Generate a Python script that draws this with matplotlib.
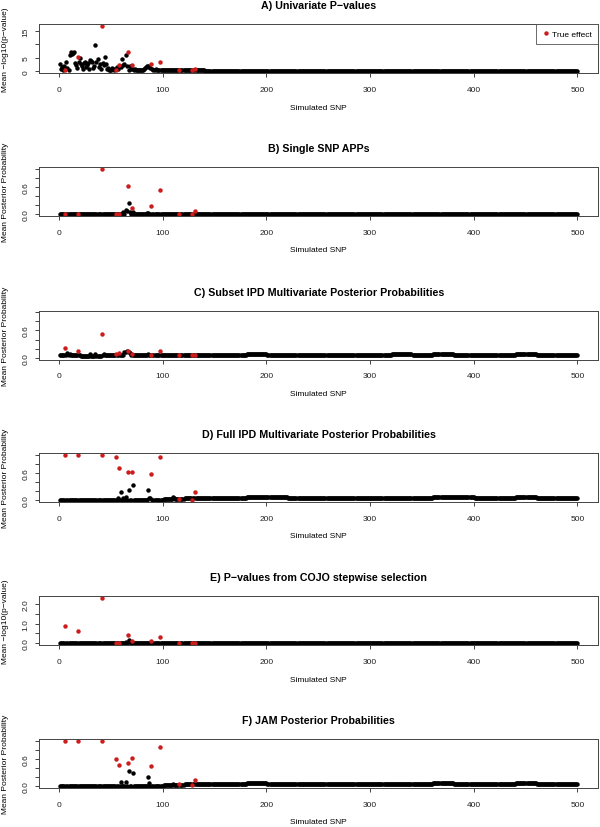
import numpy as np
import matplotlib
matplotlib.use("Agg")
import matplotlib.pyplot as plt
from matplotlib.lines import Line2D

plt.rcParams['font.family'] = ['Liberation Sans', 'DejaVu Sans']

snp = np.arange(1, 501)
true_snps = [6, 18, 41, 55, 58, 66, 70, 89, 97, 116, 128, 131]

titles = [
    "A) Univariate P\u2212values",
    "B) Single SNP APPs",
    "C) Subset IPD Multivariate Posterior Probabilities",
    "D) Full IPD Multivariate Posterior Probabilities",
    "E) P\u2212values from COJO stepwise selection",
    "F) JAM Posterior Probabilities",
]
ylabels = [
    "Mean \u2212log10(p\u2212value)",
    "Mean Posterior Probability",
    "Mean Posterior Probability",
    "Mean Posterior Probability",
    "Mean \u2212log10(p\u2212value)",
    "Mean Posterior Probability",
]

# baseline level for each block of 20 SNPs (1-20, 21-40, ..., 481-500)
a_levels = [0.4] * 5 + [0.3] * 2 + [0.2] * 18
b_levels = [0.0] * 25
c_levels = [0.06, 0.035, 0.06, 0.07, 0.06, 0.055, 0.055, 0.06, 0.065, 0.075,
            0.07, 0.065, 0.06, 0.06, 0.06, 0.065, 0.075, 0.07, 0.075, 0.07,
            0.065, 0.065, 0.075, 0.07, 0.065]
d_levels = [0.005] * 5 + [0.03, 0.04, 0.05, 0.055, 0.065,
            0.06, 0.055, 0.05, 0.05, 0.055, 0.055, 0.055, 0.055, 0.065, 0.06,
            0.055, 0.055, 0.06, 0.055, 0.05]
e_levels = [0.0] * 25
f_levels = [0.005] * 5 + [0.03, 0.04, 0.045, 0.05, 0.06,
            0.055, 0.05, 0.045, 0.045, 0.05, 0.05, 0.05, 0.05, 0.06, 0.055,
            0.05, 0.05, 0.06, 0.05, 0.045]

# individual SNPs that stand out from the baseline
a_peaks = {1: 2.6, 2: 1.0, 3: 1.5, 4: 0.6, 5: 1.8, 6: 0.6, 7: 3.4, 8: 1.2, 9: 0.5,
           10: 6.0, 11: 7.2, 12: 6.3, 13: 6.8, 14: 7.0, 15: 3.1, 16: 2.3, 17: 1.2,
           18: 5.4, 19: 3.5, 20: 4.8, 21: 2.5, 22: 2.0, 23: 0.8, 24: 3.0, 25: 3.4,
           26: 1.5, 27: 2.4, 28: 2.9, 29: 0.7, 30: 4.1, 31: 3.8, 32: 3.4, 33: 1.2,
           34: 2.0, 35: 9.8, 36: 3.6, 37: 4.5, 38: 1.7, 39: 2.6, 40: 0.9, 41: 16.9,
           42: 3.0, 43: 2.2, 44: 5.1, 45: 2.8, 46: 1.0, 47: 1.1, 48: 0.6, 49: 0.3,
           50: 0.5, 51: 1.2, 52: 0.8, 53: 0.4, 54: 1.0, 55: 0.4, 56: 1.6, 57: 1.0,
           58: 2.2, 59: 2.0, 60: 1.5, 61: 4.7, 62: 2.2, 63: 2.8, 64: 6.2, 65: 1.9,
           66: 7.2, 67: 0.6, 68: 2.0, 69: 1.0, 70: 2.2, 71: 1.0, 72: 0.5, 73: 0.8,
           75: 0.4, 76: 0.3, 80: 0.5, 82: 0.9, 83: 1.3, 84: 1.6, 85: 2.0, 86: 1.8,
           87: 1.7, 88: 1.2, 89: 2.5, 90: 1.0, 91: 0.6, 93: 0.7, 94: 0.6, 95: 0.4,
           97: 3.5, 100: 0.6, 103: 0.4, 108: 0.5, 112: 0.4, 116: 0.3, 128: 0.5,
           131: 0.8}
b_peaks = {62: 0.05, 64: 0.1, 65: 0.06, 66: 0.62, 67: 0.25, 68: 0.05, 70: 0.13,
           71: 0.05, 85: 0.03, 86: 0.03, 41: 1.0, 89: 0.17, 97: 0.54, 131: 0.08}
c_peaks = {6: 0.22, 8: 0.1, 10: 0.09, 18: 0.14, 30: 0.09, 35: 0.08, 41: 0.53,
           43: 0.09, 55: 0.09, 58: 0.11, 63: 0.12, 64: 0.13, 65: 0.15, 66: 0.14,
           67: 0.13, 68: 0.1, 70: 0.08, 86: 0.09, 89: 0.06, 97: 0.14, 116: 0.05,
           128: 0.06, 131: 0.07}
d_peaks = {6: 1.0, 18: 1.0, 41: 1.0, 55: 0.955, 57: 0.05, 58: 0.72, 60: 0.17,
           62: 0.05, 64: 0.07, 66: 0.63, 67: 0.23, 70: 0.63, 71: 0.34, 86: 0.23,
           87: 0.05, 88: 0.04, 89: 0.585, 97: 0.96, 110: 0.06, 111: 0.05,
           116: 0.03, 128: 0.01, 131: 0.17}
e_peaks = {6: 0.89, 18: 0.63, 41: 2.32, 64: 0.08, 66: 0.41, 67: 0.15, 68: 0.05,
           70: 0.12, 89: 0.1, 97: 0.32}
f_peaks = {6: 1.0, 18: 1.0, 41: 1.0, 55: 0.59, 58: 0.47, 60: 0.1, 64: 0.1,
           66: 0.52, 67: 0.33, 70: 0.62, 71: 0.28, 86: 0.2, 87: 0.07, 89: 0.44,
           97: 0.86, 110: 0.05, 116: 0.05, 128: 0.03, 131: 0.13}

yticks = [[0, 5, 10, 15], [0, 0.2, 0.4, 0.6, 0.8, 1.0], [0, 0.2, 0.4, 0.6, 0.8, 1.0],
          [0, 0.2, 0.4, 0.6, 0.8, 1.0], [0, 0.5, 1.0, 1.5, 2.0],
          [0, 0.2, 0.4, 0.6, 0.8, 1.0]]
yticklabels = [["0", "5", "", "15"], ["0.0", "", "", "0.6", "", ""],
               ["0.0", "", "", "0.6", "", ""], ["0.0", "", "", "0.6", "", ""],
               ["0.0", "", "1.0", "", "2.0"], ["0.0", "", "", "0.6", "", ""]]
fixed_ylim = [False, True, True, True, False, True]

RED = "#cd1c1c"
W, H = 600, 828
tops = [25, 168, 311.5, 454, 597, 740]
ax_h = 49
left, right = 39.5, 598


def build(levels, peaks):
    vals = np.repeat(levels, 20).astype(float)
    for s, v in peaks.items():
        vals[s - 1] = v
    return vals


panels = [build(a_levels, a_peaks), build(b_levels, b_peaks),
          build(c_levels, c_peaks), build(d_levels, d_peaks),
          build(e_levels, e_peaks), build(f_levels, f_peaks)]

is_true = np.isin(snp, true_snps)

fig = plt.figure(figsize=(W / 100, H / 100), dpi=100)

for i, vals in enumerate(panels):
    ax = fig.add_axes([left / W, 1 - (tops[i] + ax_h) / H, (right - left) / W, ax_h / H])
    ax.plot(snp[~is_true], vals[~is_true], 'o', color='black', ms=3.2, mew=0)
    ax.plot(snp[is_true], vals[is_true], 'o', color=RED, ms=3.2, mew=0)

    ax.set_xlim(-19, 520)
    if fixed_ylim[i]:
        lo, hi = 0, 1
    else:
        lo, hi = 0, vals.max()
    pad = 0.04 * (hi - lo)
    ax.set_ylim(lo - pad, hi + pad)

    ax.set_xticks([0, 100, 200, 300, 400, 500])
    ax.set_yticks(yticks[i])
    ax.set_yticklabels(yticklabels[i])
    ax.tick_params(direction='out', length=2.9, width=0.6, labelsize=6.0,
                   colors='#222222')
    ax.tick_params(axis='x', pad=6.3)
    ax.tick_params(axis='y', pad=7.0, labelrotation=90)
    plt.setp(ax.get_yticklabels(), ha='center', va='center')
    for sp in ax.spines.values():
        sp.set_linewidth(0.7)
        sp.set_color('#444444')

    ax.annotate(titles[i], xy=(0.5, 1), xycoords='axes fraction',
                xytext=(0, 19 * 0.72), textcoords='offset points',
                ha='center', va='center', fontsize=7.7, fontweight='bold')
    ax.annotate("Simulated SNP", xy=(0.5, 0), xycoords='axes fraction',
                xytext=(0, -34 * 0.72), textcoords='offset points',
                ha='center', va='center', fontsize=6.0)
    ax.annotate(ylabels[i], xy=(0, 0.5), xycoords='axes fraction',
                xytext=(-34 * 0.72, 0), textcoords='offset points',
                ha='center', va='center', rotation=90, fontsize=6.0)

    if i == 0:
        handle = Line2D([], [], marker='o', ls='none', color=RED, ms=3.2, mew=0)
        leg = ax.legend([handle], ["True effect"], loc='upper right',
                        borderaxespad=0, fontsize=6.0, fancybox=False,
                        handlelength=0.8, handletextpad=0.4, borderpad=0.7)
        leg.get_frame().set_edgecolor('#444444')
        leg.get_frame().set_linewidth(0.7)

fig.savefig("out.png", dpi=100)
